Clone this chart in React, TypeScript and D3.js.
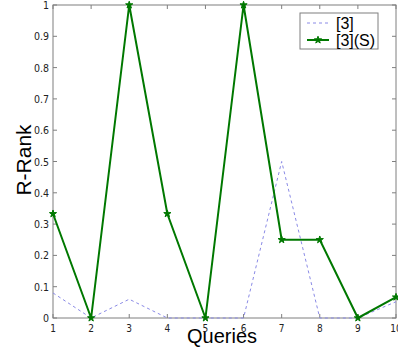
import React from "react";
import * as d3 from "d3";

const queries = [1, 2, 3, 4, 5, 6, 7, 8, 9, 10];
const seriesRef = [0.08, 0, 0.06, 0, 0, 0, 0.5, 0, 0, 0.052];
const seriesS = [0.333, 0, 1, 0.333, 0, 1, 0.25, 0.25, 0, 0.0667];
const yTicks = [0, 0.1, 0.2, 0.3, 0.4, 0.5, 0.6, 0.7, 0.8, 0.9, 1];
const legendLabels = ["[3]", "[3](S)"];

const W = 398, H = 348;
const left = 53, right = 396, top = 5, bottom = 318;

export default function App() {
  const x = d3.scaleLinear().domain([1, 10]).range([left, right]);
  const y = d3.scaleLinear().domain([0, 1]).range([bottom, top]);
  const line = d3.line<number>().x((_, i) => x(queries[i])).y((d) => y(d));
  const star = d3.symbol().type(d3.symbolStar).size(16)();
  const axisColor = "#7f7f7f";
  const tickFont = "'DejaVu Sans Condensed', 'Liberation Sans Narrow', 'Liberation Sans', sans-serif";
  return (
    <svg width={W} height={H} style={{ position: "absolute", left: 0, top: 0, background: "#fff" }}>
      <rect x={0} y={0} width={W} height={H} fill="#fff" />
      <rect x={left} y={top} width={right - left} height={bottom - top} fill="none" stroke={axisColor} strokeWidth={1} />
      {yTicks.map((t) => (
        <g key={"y" + t}>
          <line x1={left} x2={left + 4} y1={y(t)} y2={y(t)} stroke={axisColor} />
          <line x1={right - 4} x2={right} y1={y(t)} y2={y(t)} stroke={axisColor} />
          <text x={left - 4} y={y(t) + 4} textAnchor="end" fontSize={10.5} fontFamily={tickFont} fill="#222">
            {String(t)}
          </text>
        </g>
      ))}
      {queries.map((q) => (
        <g key={"x" + q}>
          <line x1={x(q)} x2={x(q)} y1={bottom} y2={bottom - 4} stroke={axisColor} />
          <line x1={x(q)} x2={x(q)} y1={top} y2={top + 4} stroke={axisColor} />
          <text x={x(q)} y={bottom + 14} textAnchor="middle" fontSize={10} fontFamily={tickFont} fill="#222">
            {String(q)}
          </text>
        </g>
      ))}
      <path d={line(seriesRef) || ""} fill="none" stroke="#8a8ae6" strokeWidth={1} strokeDasharray="3,3" />
      <path d={line(seriesS) || ""} fill="none" stroke="#007800" strokeWidth={2} />
      {seriesS.map((v, i) => (
        <path key={"m" + i} d={star || ""} transform={`translate(${x(queries[i])},${y(v)})`} fill="#007800" stroke="#007800" strokeWidth={1} />
      ))}
      <text x={222} y={343} textAnchor="middle" fontSize={20} fontFamily="'Liberation Sans', Arial, sans-serif" fill="#000">Queries</text>
      <text transform={`translate(31,160) rotate(-90)`} textAnchor="middle" fontSize={21} fontFamily="'Liberation Sans', Arial, sans-serif" fill="#000">R-Rank</text>
      <rect x={300} y={13} width={78} height={36} fill="#fff" stroke={axisColor} />
      <line x1={307} x2={329} y1={23} y2={23} stroke="#8a8ae6" strokeWidth={1} strokeDasharray="3,3" />
      <text x={336} y={29} fontSize={16} fontFamily="'Liberation Sans', Arial, sans-serif">{legendLabels[0]}</text>
      <line x1={307} x2={329} y1={40} y2={40} stroke="#007800" strokeWidth={2} />
      <path d={star || ""} transform="translate(318,40)" fill="#007800" stroke="#007800" strokeWidth={1} />
      <text x={336} y={46} fontSize={16} fontFamily="'Liberation Sans', Arial, sans-serif">{legendLabels[1]}</text>
    </svg>
  );
}
